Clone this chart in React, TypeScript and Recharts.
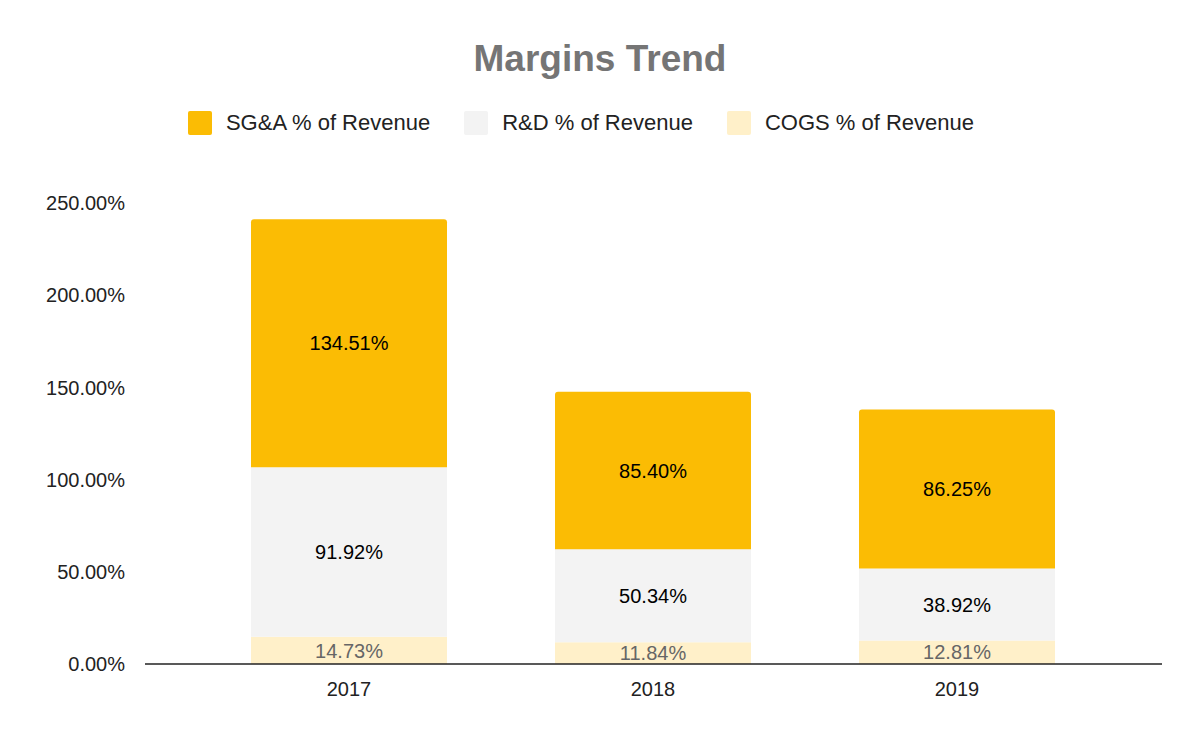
import { BarChart, Bar, XAxis, YAxis, CartesianGrid, Legend, LabelList } from "recharts";

const years = ["2017", "2018", "2019"];
const cogs = [14.73, 11.84, 12.81];
const rnd = [91.92, 50.34, 38.92];
const sga = [134.51, 85.4, 86.25];
const yTicks = [0, 50, 100, 150, 200, 250];

const data = years.map((y, i) => ({ year: y, cogs: cogs[i], rnd: rnd[i], sga: sga[i] }));

const fmt = (v: any) => `${Number(v).toFixed(2)}%`;

const series = [
  { key: "sga", name: "SG&A % of Revenue", color: "#fbbc04" },
  { key: "rnd", name: "R&D % of Revenue", color: "#f3f3f3" },
  { key: "cogs", name: "COGS % of Revenue", color: "#fff0c9" },
];

const LegendBox = () => (
  <div style={{ display: "flex", justifyContent: "center", gap: 34, fontSize: 22, color: "#222" }}>
    {series.map((s) => (
      <div key={s.key} style={{ display: "flex", alignItems: "center", gap: 14 }}>
        <span style={{ width: 24, height: 24, background: s.color, borderRadius: 2, display: "inline-block" }} />
        {s.name}
      </div>
    ))}
  </div>
);

export default function App() {
  return (
    <div style={{ position: "absolute", left: 0, top: 0, width: 1200, height: 742, background: "#fff", fontFamily: "'Liberation Sans', Arial, sans-serif" }}>
      <div style={{ position: "absolute", top: 38, width: 1200, textAlign: "center", fontSize: 37, fontWeight: "bold", color: "#757575" }}>
        Margins Trend
      </div>
      <BarChart width={1200} height={742} data={data} margin={{ top: 177, right: 38, left: 0, bottom: 0 }} barCategoryGap={54}>
        <CartesianGrid vertical={false} horizontal={false} />
        <XAxis dataKey="year" height={78} padding={{ left: 52, right: 53 }} tickLine={false} axisLine={{ stroke: "#222", strokeWidth: 1.5 }} tick={{ fill: "#222", fontSize: 20 }} tickMargin={12} />
        <YAxis width={145} domain={[0, 250]} ticks={yTicks} tickFormatter={fmt} axisLine={false} tickLine={false} tick={{ fill: "#222", fontSize: 20 }} tickMargin={14} />
        <Legend verticalAlign="top" wrapperStyle={{ top: 110 }} content={() => <LegendBox />} />
        <Bar dataKey="cogs" stackId="a" fill="#fff0c9" isAnimationActive={false}>
          <LabelList dataKey="cogs" position="center" formatter={fmt} fill="#666" fontSize={20} />
        </Bar>
        <Bar dataKey="rnd" stackId="a" fill="#f3f3f3" isAnimationActive={false}>
          <LabelList dataKey="rnd" position="center" formatter={fmt} fill="#000" fontSize={20} />
        </Bar>
        <Bar dataKey="sga" stackId="a" fill="#fbbc04" radius={[3, 3, 0, 0]} isAnimationActive={false}>
          <LabelList dataKey="sga" position="center" formatter={fmt} fill="#000" fontSize={20} />
        </Bar>
      </BarChart>
    </div>
  );
}
